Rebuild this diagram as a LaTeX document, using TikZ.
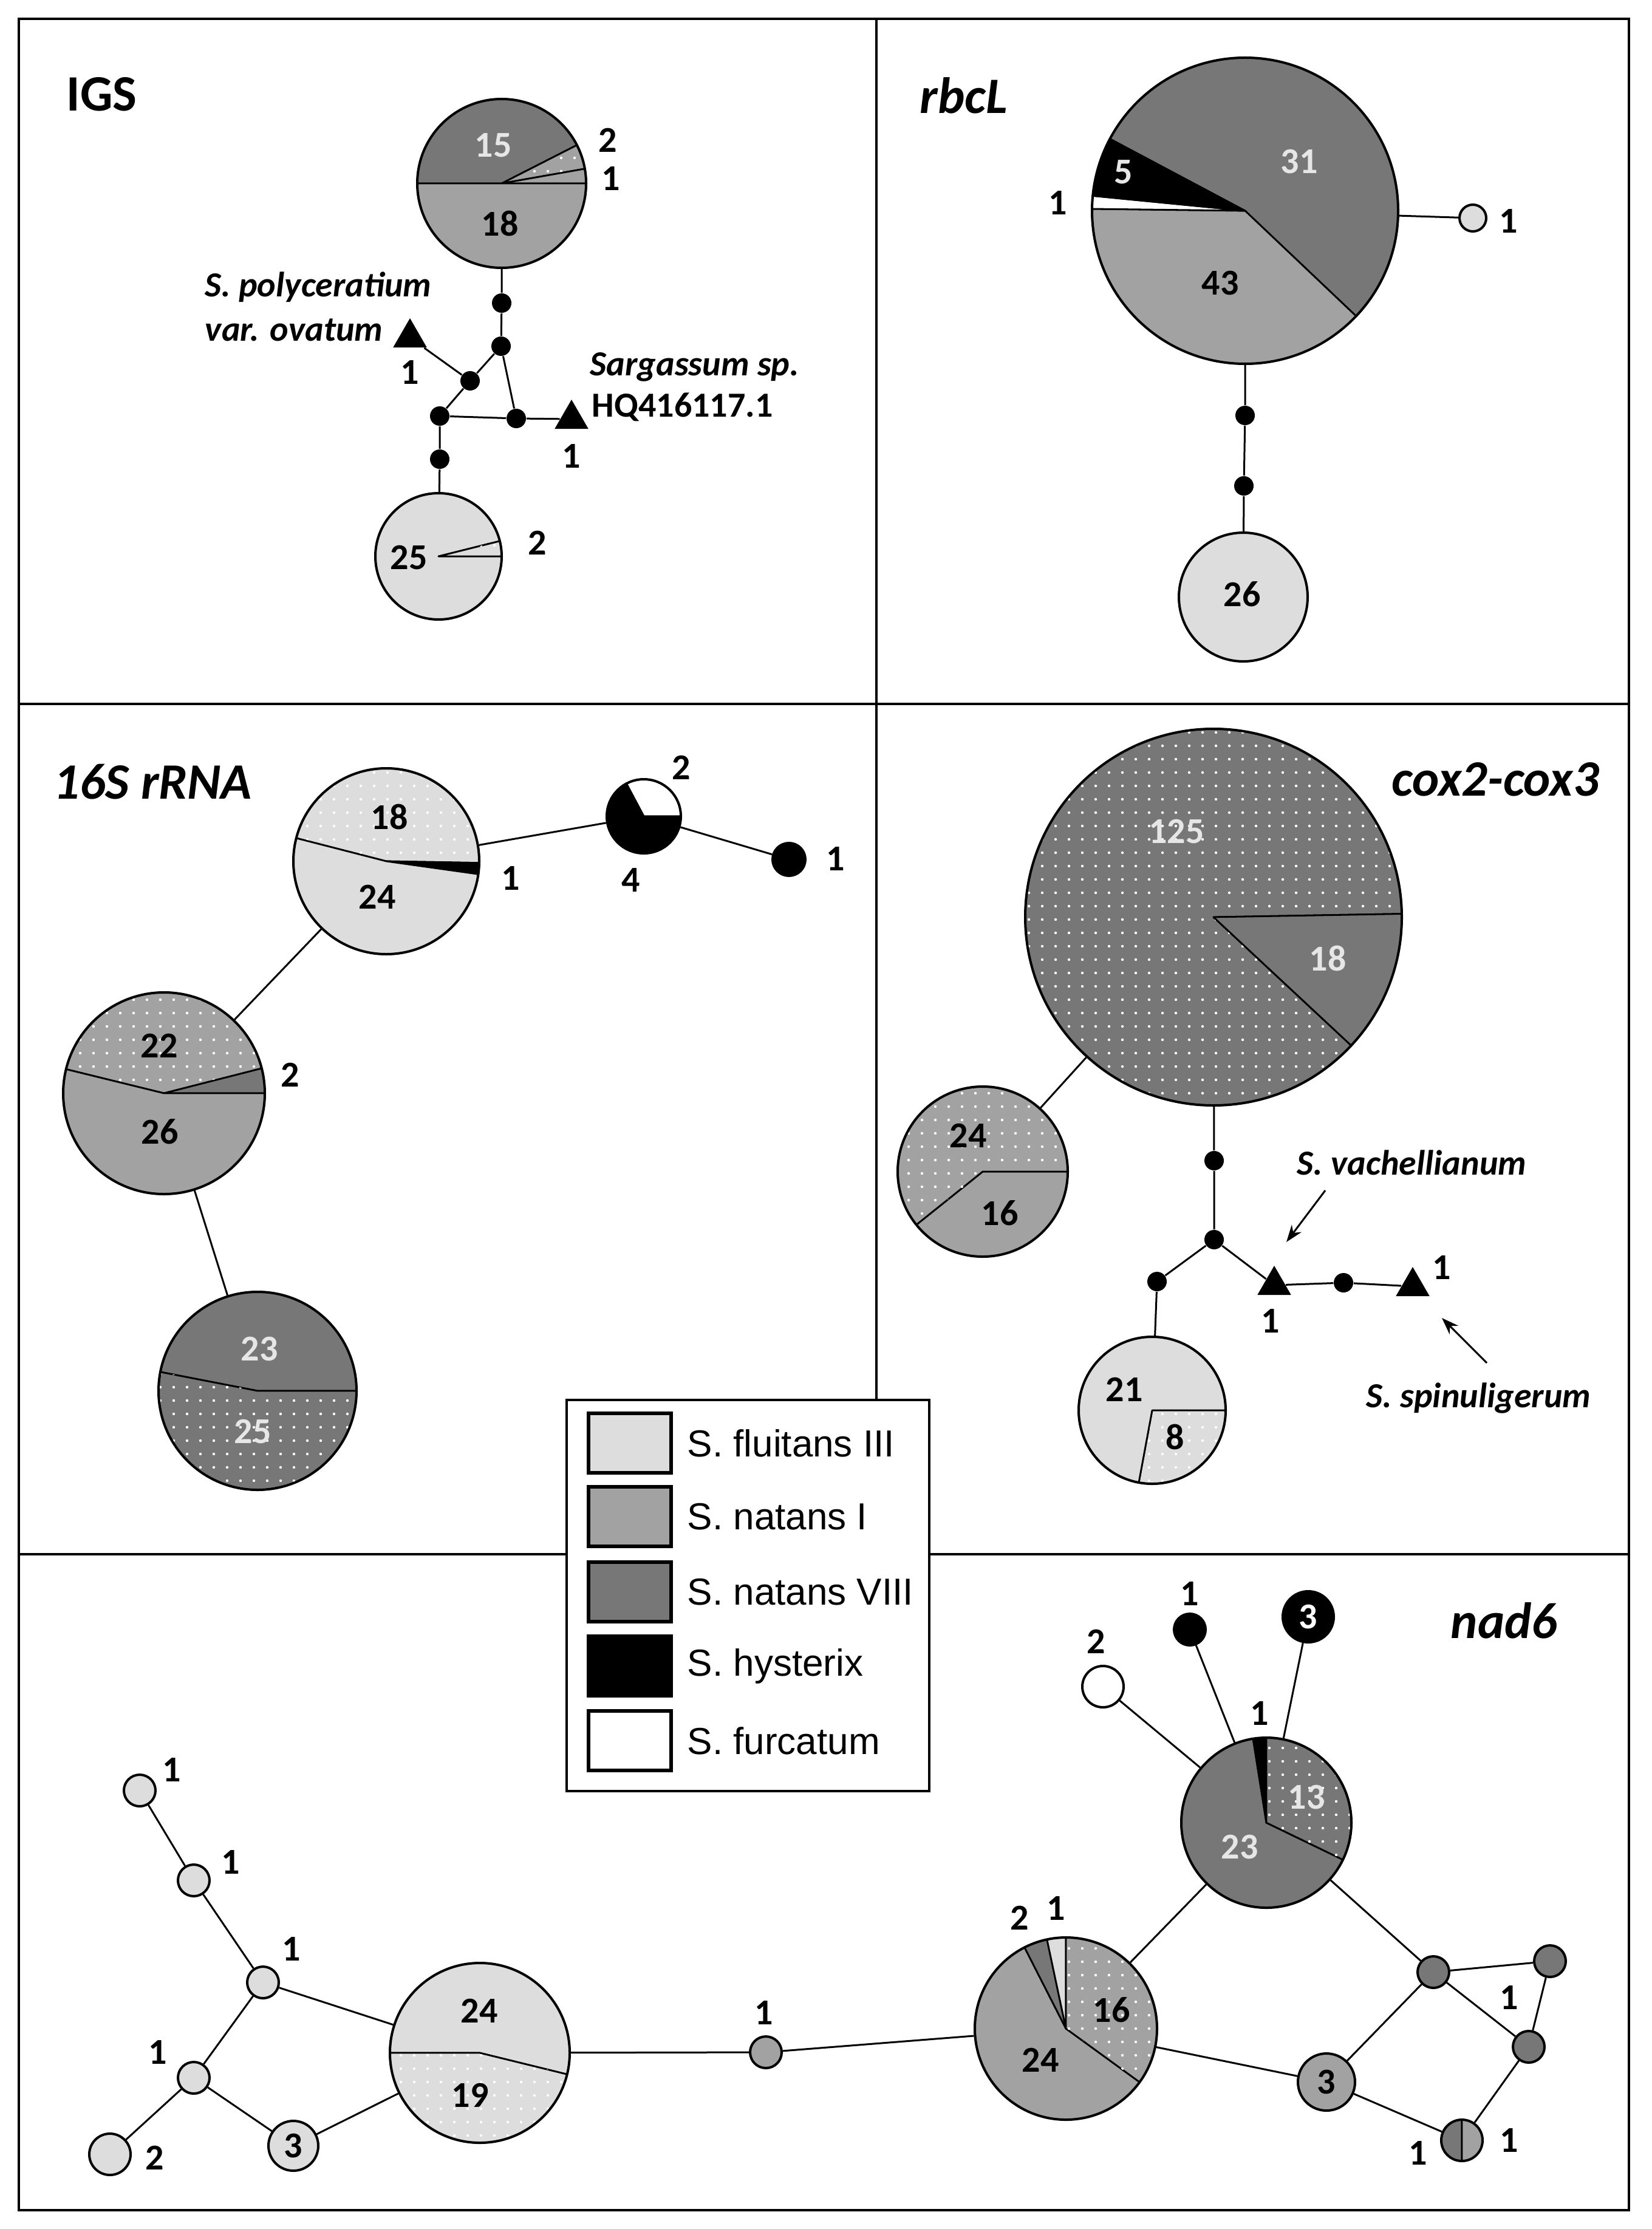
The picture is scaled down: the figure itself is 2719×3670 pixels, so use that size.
\documentclass[tikz,border=0pt]{standalone}
\usepackage{fontspec}
\setmainfont{Carlito}
\newfontfamily\legfont{Liberation Sans}
\usetikzlibrary{shapes.geometric,patterns.meta,arrows.meta}
\definecolor{cflu}{HTML}{DDDDDD}
\definecolor{cnat}{HTML}{A2A2A2}
\definecolor{cviii}{HTML}{777777}
\definecolor{clt}{HTML}{E6E6E6}
\tikzset{
  flu/.style={fill=cflu},
  nat/.style={fill=cnat},
  viii/.style={fill=cviii},
  hys/.style={fill=black},
  fur/.style={fill=white},
  dts/.style={postaction={pattern={Dots[distance=5.5pt,radius=0.55pt]},pattern color=white}},
  slc/.style={draw=black,line width=0.7pt,line join=round},
  pie/.style={circle,draw=black,line width=1pt,inner sep=0pt,minimum size=#1*0.5pt},
  dotn/.style={circle,fill=black,inner sep=0pt,minimum size=8pt},
  tri/.style={regular polygon,regular polygon sides=3,fill=black,inner sep=0pt,minimum size=16pt},
  num/.style={font=\bfseries\fontsize{15}{15}\selectfont,inner sep=0pt},
  lnum/.style={num,text=clt},
  wnum/.style={num,text=white},
  spc/.style={font=\bfseries\itshape\fontsize{14.5}{14.5}\selectfont,inner sep=0pt,anchor=west},
  spu/.style={font=\bfseries\fontsize{14.5}{14.5}\selectfont,inner sep=0pt,anchor=west},
  ttl/.style={font=\bfseries\itshape\fontsize{21}{21}\selectfont,inner sep=0pt,anchor=base west},
  conn/.style={line width=0.75pt},
  swatch/.style={draw=black,line width=1.4pt,minimum width=34pt,minimum height=24.5pt,inner sep=0pt},
  legtxt/.style={font=\legfont\fontsize{15.5}{15.5}\selectfont,anchor=west,inner sep=0pt},
}
\newcommand\pslice[5]{\path[slc,#5] (#1) -- ++(#3:#2) arc[start angle=#3,end angle=#4,radius=#2] -- cycle;}
\begin{document}
\begin{tikzpicture}[x=0.25pt,y=-0.25pt]
\useasboundingbox (0,0) rectangle (2719,3670);
\fill[white] (0,0) rectangle (2719,3670);
% frame
\draw[line width=1.2pt] (31,31) rectangle (2682,3639);
\draw[line width=1.2pt] (1443,31) -- (1443,2303);
\draw[line width=1.2pt] (31,1159) -- (2682,1159);
\draw[line width=1.2pt] (31,2559) -- (2682,2559);

% ================= IGS =================
\node[ttl,font=\bfseries\fontsize{21}{21}\selectfont] (tIGS) at (109,183) {IGS};
\pslice{826,302}{139}{180}{333}{viii}
\pslice{826,302}{139}{333}{350}{nat,dts}
\pslice{826,302}{139}{350}{360}{nat}
\pslice{826,302}{139}{0}{180}{nat}
\node[pie=139] (P1) at (826,302) {};
\node[lnum] (P1a) at (812,239) {15};
\node[num] (P1b) at (823,368) {18};
\node[num] (P1c) at (1001,231) {2};
\node[num] (P1d) at (1006,294) {1};
\node[dotn] (d1) at (826,499) {};
\node[dotn] (d2) at (825,570) {};
\node[dotn] (d3) at (774,627) {};
\node[dotn] (d4) at (724,685) {};
\node[dotn] (d5) at (850,689) {};
\node[dotn] (d6) at (724,756) {};
\node[tri] (T1) at (675,556) {};
\node[tri] (T2) at (941,690) {};
\pslice{722,916}{104}{0}{346}{flu}
\pslice{722,916}{104}{346}{360}{flu,dts}
\node[pie=104] (P2) at (722,916) {};
\node[num] (P2a) at (673,918) {25};
\node[num] (P2b) at (885,894) {2};
\draw[conn] (P1) -- (d1) -- (d2) -- (d3) -- (T1);
\draw[conn] (d3) -- (d4) -- (d5) -- (T2);
\draw[conn] (d2) -- (d5);
\draw[conn] (d4) -- (d6) -- (P2);
\node[spc] (lpoly) at (337,473) {S. polyceratium};
\node[spc] (lvar) at (337,543) {var. ovatum};
\node[num] (T1n) at (675,613) {1};
\node[spc] (lsarg) at (971,604) {Sargassum sp.};
\node[spu] (lhq) at (974,670) {HQ416117.1};
\node[num] (T2n) at (941,751) {1};

% ================= rbcL =================
\node[ttl] (trbcl) at (1514,187) {rbcL};
\pslice{2050,347}{252}{208}{403.5}{viii}
\pslice{2050,347}{252}{43.5}{180.7}{nat}
\pslice{2050,347}{252}{180.7}{185.6}{fur}
\pslice{2050,347}{252}{185.6}{208}{hys}
\node[pie=252] (R1) at (2050,347) {};
\node[lnum] (R1a) at (2139,266) {31};
\node[num] (R1b) at (2009,466) {43};
\node[lnum] (R1c) at (1850,283) {5};
\node[num] (R1d) at (1742,334) {1};
\node[pie=22,fill=cflu] (R2) at (2425,359) {};
\node[num] (R2n) at (2484,364) {1};
\node[dotn] (rd1) at (2050,684) {};
\node[dotn] (rd2) at (2048,800) {};
\node[pie=106,fill=cflu] (R3) at (2047,983) {};
\node[num] (R3n) at (2045,978) {26};
\draw[conn] (R1) -- (R2);
\draw[conn] (R1) -- (rd1) -- (rd2) -- (R3);

% ================= 16S rRNA =================
\node[ttl] (t16s) at (88,1315) {16S rRNA};
\pslice{636,1418}{153}{194.4}{361}{flu,dts}
\pslice{636,1418}{153}{1}{8}{hys}
\pslice{636,1418}{153}{8}{194.4}{flu}
\node[pie=153] (A) at (636,1418) {};
\node[num] (Aa) at (641,1345) {18};
\node[num] (Ab) at (621,1477) {24};
\node[num] (Ac) at (841,1446) {1};
\pslice{1060,1344}{61}{242}{360}{fur}
\pslice{1060,1344}{61}{0}{242}{hys}
\node[pie=61] (B) at (1060,1344) {};
\node[num] (Ba) at (1122,1264) {2};
\node[num] (Bb) at (1039,1449) {4};
\node[pie=27,fill=black] (Bs) at (1299,1415) {};
\node[num] (Bsn) at (1376,1414) {1};
\pslice{270,1800}{166}{193.8}{345.7}{nat,dts}
\pslice{270,1800}{166}{345.7}{360}{viii}
\pslice{270,1800}{166}{0}{193.8}{nat}
\node[pie=166] (C) at (270,1800) {};
\node[num] (Ca) at (262,1722) {22};
\node[num] (Cb) at (263,1863) {26};
\node[num] (Cc) at (478,1770) {2};
\pslice{424,2290}{163}{191}{360}{viii}
\pslice{424,2290}{163}{0}{191}{viii,dts}
\node[pie=163] (D) at (424,2290) {};
\node[lnum] (Da) at (427,2221) {23};
\node[lnum] (Db) at (416,2357) {25};
\draw[conn] (A) -- (B) -- (Bs);
\draw[conn] (A) -- (C) -- (D);

% ================= cox2-cox3 =================
\node[ttl] (tcox) at (2291,1310) {cox2-cox3};
\pslice{1998,1510}{310}{43}{359}{viii,dts}
\pslice{1998,1510}{310}{359}{403}{viii}
\node[pie=310] (X1) at (1998,1510) {};
\node[lnum] (X1a) at (1937,1369) {125};
\node[lnum] (X1b) at (2186,1578) {18};
\pslice{1618,1929}{140}{0}{141.3}{nat}
\pslice{1618,1929}{140}{141.3}{360}{nat,dts}
\node[pie=140] (X2) at (1618,1929) {};
\node[num] (X2a) at (1594,1870) {24};
\node[num] (X2b) at (1646,1997) {16};
\node[dotn] (e1) at (1999,1911) {};
\node[dotn] (e2) at (1999,2041) {};
\node[dotn] (e3) at (1905,2110) {};
\node[dotn] (e4) at (2212,2112) {};
\node[tri] (V) at (2098,2116) {};
\node[tri] (Sp) at (2326,2118) {};
\pslice{1897,2322}{121}{0}{100.5}{flu,dts}
\pslice{1897,2322}{121}{100.5}{360}{flu}
\node[pie=121] (X3) at (1897,2322) {};
\node[num] (X3a) at (1851,2288) {21};
\node[num] (X3b) at (1935,2366) {8};
\draw[conn] (X1) -- (X2);
\draw[conn] (X1) -- (e1) -- (e2) -- (e3) -- (X3);
\draw[conn] (e2) -- (V) -- (e4) -- (Sp);
\node[spc] (lvach) at (2135,1914) {S. vachellianum};
\node[num] (Vn) at (2092,2175) {1};
\node[num] (Spn) at (2374,2087) {1};
\node[spc] (lspin) at (2249,2302) {S. spinuligerum};
\coordinate (va1) at (2182,1960);
\coordinate (va2) at (2118,2045);
\coordinate (sa1) at (2448,2244);
\coordinate (sa2) at (2374,2170);
\draw[conn,-{Stealth[length=7pt,width=5pt]}] (va1) -- (va2);
\draw[conn,-{Stealth[length=7pt,width=5pt]}] (sa1) -- (sa2);

% ================= nad6 =================
\node[ttl] (tnad) at (2388,2697) {nad6};
\node[pie=26,fill=cflu] (n1) at (230,2948) {};
\node[pie=26,fill=cflu] (n2) at (319,3096) {};
\node[pie=26,fill=cflu] (n3) at (433,3264) {};
\node[pie=26,fill=cflu] (n4) at (319,3421) {};
\node[pie=34,fill=cflu] (n5) at (181,3547) {};
\node[pie=41,fill=cflu] (n6) at (483,3533) {};
\node[num] (n1l) at (283,2914) {1};
\node[num] (n2l) at (380,3066) {1};
\node[num] (n3l) at (480,3209) {1};
\node[num] (n4l) at (260,3379) {1};
\node[num] (n5l) at (255,3553) {2};
\node[num] (n6l) at (483,3533) {3};
\pslice{790,3380}{148}{180}{373.8}{flu}
\pslice{790,3380}{148}{13.8}{180}{flu,dts}
\node[pie=148] (N1) at (790,3380) {};
\node[num] (N1a) at (789,3311) {24};
\node[num] (N1b) at (774,3450) {19};
\node[pie=26,fill=cnat] (n7) at (1261,3379) {};
\node[num] (n7l) at (1258,3314) {1};
\pslice{1755,3340}{150}{36}{243}{nat}
\pslice{1755,3340}{150}{243}{258}{viii}
\pslice{1755,3340}{150}{258}{270}{flu}
\pslice{1755,3340}{150}{270}{396}{nat,dts}
\node[pie=150] (N2) at (1755,3340) {};
\node[num] (N2a) at (1713,3392) {24};
\node[num] (N2b) at (1830,3309) {16};
\node[num] (N2c) at (1679,3158) {2};
\node[num] (N2d) at (1739,3142) {1};
\pslice{2085,3001}{140}{25.8}{261}{viii}
\pslice{2085,3001}{140}{261}{270}{hys}
\pslice{2085,3001}{140}{270}{385.8}{viii,dts}
\node[pie=140] (N3) at (2085,3001) {};
\node[lnum] (N3a) at (2041,3041) {23};
\node[lnum] (N3b) at (2151,2959) {13};
\node[num] (N3c) at (2074,2821) {1};
\node[pie=34,fill=white] (w) at (1816,2777) {};
\node[num] (wl) at (1805,2703) {2};
\node[pie=26,fill=black] (b1) at (1959,2683) {};
\node[num] (b1l) at (1959,2624) {1};
\node[pie=42,fill=black] (b3) at (2154,2662) {};
\node[wnum] (b3l) at (2154,2662) {3};
\node[pie=26,fill=cviii] (g1) at (2360,3247) {};
\node[pie=26,fill=cviii] (g2) at (2552,3229) {};
\node[pie=26,fill=cviii] (g3) at (2517,3370) {};
\node[num] (g3l) at (2485,3289) {1};
\node[pie=47,fill=cnat] (g4) at (2184,3428) {};
\node[num] (g4l) at (2184,3428) {3};
\pslice{2407,3524}{34}{90}{270}{viii}
\pslice{2407,3524}{34}{270}{450}{nat}
\node[pie=34] (g5) at (2407,3524) {};
\node[num] (g5a) at (2335,3545) {1};
\node[num] (g5b) at (2485,3524) {1};
\draw[conn] (n1) -- (n2) -- (n3) -- (n4) -- (n5);
\draw[conn] (n4) -- (n6) -- (N1);
\draw[conn] (n3) -- (N1);
\draw[conn] (N1) -- (n7) -- (N2);
\draw[conn] (N2) -- (N3);
\draw[conn] (N3) -- (w);
\draw[conn] (N3) -- (b1);
\draw[conn] (N3) -- (b3);
\draw[conn] (N2) -- (g4) -- (g1) -- (g2) -- (g3) -- (g5) -- (g4);
\draw[conn] (N3) -- (g1) -- (g3);

% ================= legend =================
\node[draw=black,fill=white,line width=1pt,minimum width=149.25pt,minimum height=161pt,inner sep=0pt,anchor=north west] (leg) at (931,2303) {};
\node[swatch,fill=cflu] (sw1) at (1037,2376) {};
\node[swatch,fill=cnat] (sw2) at (1037,2497) {};
\node[swatch,fill=cviii] (sw3) at (1037,2621) {};
\node[swatch,fill=black] (sw4) at (1037,2743) {};
\node[swatch,fill=white] (sw5) at (1037,2866) {};
\node[legtxt] (lt1) at (1131,2376) {S. fluitans III};
\node[legtxt] (lt2) at (1131,2497) {S. natans I};
\node[legtxt] (lt3) at (1131,2621) {S. natans VIII};
\node[legtxt] (lt4) at (1131,2743) {S. hysterix};
\node[legtxt] (lt5) at (1131,2866) {S. furcatum};
\end{tikzpicture}
\end{document}
